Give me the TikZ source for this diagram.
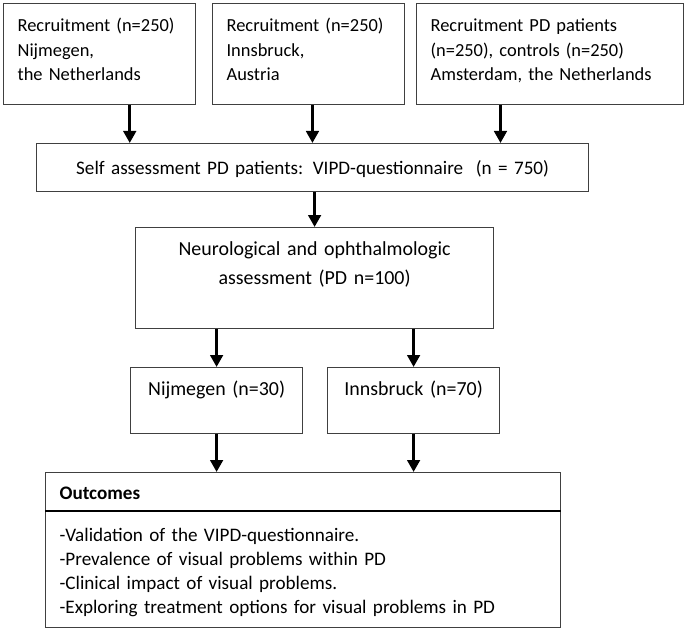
\documentclass[tikz,border=0pt]{standalone}
\usepackage{fontspec}
\setmainfont{Carlito}
\usetikzlibrary{arrows.meta,calc}
\tikzset{
  box/.style={draw=black!75,line width=1.2bp,inner xsep=14bp,inner ysep=0pt,anchor=north west,font=\fontsize{20}{24.5}\selectfont},
  arr/.style={line width=3bp,-{Triangle[width=12.5bp,length=12bp]}},
}
\begin{document}
\begin{tikzpicture}[x=1bp,y=-1bp]
  \useasboundingbox (0,0) rectangle (685,630);
  \node[box,align=left,text width=164bp,text height=28bp,text depth=73bp,font=\fontsize{18.5}{24.5}\selectfont] (r1) at (3,3) {Recruitment (n=250)\\Nijmegen,\\the Netherlands};
  \node[box,align=left,text width=164bp,text height=28bp,text depth=73bp,font=\fontsize{18.5}{24.5}\selectfont] (r2) at (212,3) {Recruitment (n=250)\\Innsbruck,\\Austria};
  \node[box,align=left,text width=239bp,text height=28bp,text depth=73bp,font=\fontsize{18.5}{24.5}\selectfont] (r3) at (416,3) {Recruitment PD patients\\(n=250), controls (n=250)\\Amsterdam, the Netherlands};
  \node[box,align=center,text width=524bp,text height=31bp,text depth=17bp,font=\fontsize{19.2}{24.5}\selectfont] (self) at (36,143) {Self assessment PD patients: VIPD-questionnaire~~(n = 750)};
  \node[box,align=center,text width=330bp,text height=28bp,text depth=73bp,font=\fontsize{20}{29}\selectfont] (neuro) at (135,227) {Neurological and ophthalmologic\\assessment (PD n=100)};
  \node[box,align=center,text width=144bp,text height=28bp,text depth=38bp] (nij) at (130,367) {Nijmegen (n=30)};
  \node[box,align=center,text width=144bp,text height=28bp,text depth=38bp] (inn) at (327,367) {Innsbruck (n=70)};
  \node[box,align=left,text width=487bp,text height=27bp,text depth=11bp,font=\fontsize{19.2}{24.5}\selectfont\bfseries] (outhead) at (45,472) {Outcomes};
  \node[box,align=left,text width=487bp,text height=31bp,text depth=86bp,font=\fontsize{19.2}{24}\selectfont] (outbody) at (45,510) {-Validation of the VIPD-questionnaire.\\-Prevalence of visual problems within PD\\-Clinical impact of visual problems.\\-Exploring treatment options for visual problems in PD};
  \draw[line width=2.2bp] (outhead.south west) -- (outhead.south east);

  \coordinate (a1) at ($(r1.south west)!.656!(r1.south east)$);
  \coordinate (a2) at ($(r2.south west)!.52!(r2.south east)$);
  \coordinate (a3) at ($(r3.south west)!.315!(r3.south east)$);
  \draw[arr] (a1) -- (a1 |- self.north);
  \draw[arr] (a2) -- (a2 |- self.north);
  \draw[arr] (a3) -- (a3 |- self.north);
  \draw[arr] (neuro.north |- self.south) -- (neuro.north);
  \draw[arr] (nij.north |- neuro.south) -- (nij.north);
  \draw[arr] (inn.north |- neuro.south) -- (inn.north);
  \draw[arr] (nij.south) -- (nij.south |- outhead.north);
  \draw[arr] (inn.south) -- (inn.south |- outhead.north);
\end{tikzpicture}
\end{document}
